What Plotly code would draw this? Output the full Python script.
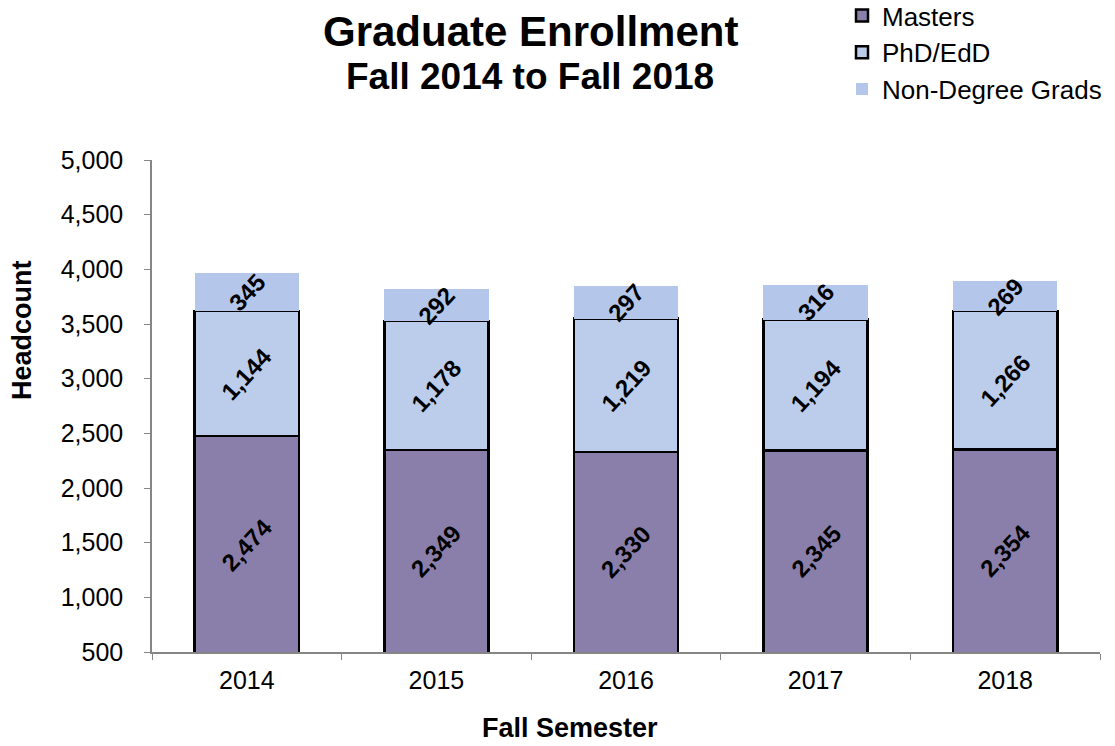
import plotly.graph_objects as go

years = ["2014", "2015", "2016", "2017", "2018"]
masters = [2474, 2349, 2330, 2345, 2354]
phd = [1144, 1178, 1219, 1194, 1266]
nondegree = [345, 292, 297, 316, 269]
y_ticks = [500, 1000, 1500, 2000, 2500, 3000, 3500, 4000, 4500, 5000]

FONT = "Arial, Liberation Sans, sans-serif"
Y_MIN, Y_MAX = 500, 5000
W, H = 1115, 746
ML, MR, MT, MB = 152, 15, 160, 94
PW, PH = W - ML - MR, H - MT - MB


def px_x(px):
    return (px - ML) / PW


def px_y(py):
    return (H - MB - py) / PH


fig = go.Figure()
fig.add_trace(go.Bar(
    x=years, y=masters, name="Masters",
    marker=dict(color="#8a7fab", line=dict(color="black", width=2.5)),
    textposition="none",
))
fig.add_trace(go.Bar(
    x=years, y=phd, name="PhD/EdD",
    marker=dict(color="#bccdec", line=dict(color="black", width=2.5)),
    textposition="none",
))
fig.add_trace(go.Bar(
    x=years, y=nondegree, name="Non-Degree Grads",
    marker=dict(color="#b4c7eb", line=dict(color="rgba(0,0,0,0)", width=0)),
    textposition="none",
))

# rotated value labels, centred in the visible part of each segment
label_font = dict(family=FONT, size=24, color="black")
for i in range(len(years)):
    m, p, n = masters[i], phd[i], nondegree[i]
    segs = [
        ((max(Y_MIN, 0) + m) / 2, m),
        (m + p / 2, p),
        (m + p + n / 2, n),
    ]
    for yc, v in segs:
        fig.add_annotation(
            x=i, y=yc, xref="x", yref="y", text=f"<b>{v:,}</b>",
            textangle=-47, showarrow=False, font=label_font,
            xanchor="center", yanchor="middle",
        )

fig.update_layout(
    barmode="stack",
    bargap=0.45,
    width=W, height=H,
    margin=dict(l=ML, r=MR, t=MT, b=MB, autoexpand=False),
    paper_bgcolor="white", plot_bgcolor="white",
    font=dict(family=FONT, color="black"),
    showlegend=True,
    legend=dict(
        x=px_x(842), y=px_y(-8), xref="paper", yref="paper",
        xanchor="left", yanchor="top",
        font=dict(family=FONT, size=26, color="black"),
        traceorder="normal",
        bgcolor="rgba(0,0,0,0)", tracegroupgap=0,
    ),
)

fig.update_xaxes(
    type="category", range=[-0.5, len(years) - 0.5],
    categoryorder="array", categoryarray=years,
    showline=True, linecolor="#868686", linewidth=1.5,
    ticks="outside", ticklen=6, tickcolor="#868686",
    tickson="boundaries", ticklabelstandoff=5, tickangle=0,
    tickfont=dict(family=FONT, size=25, color="black"),
    showgrid=False, automargin=False,
)
fig.update_yaxes(
    range=[Y_MIN, Y_MAX], tickvals=y_ticks, tickformat=",",
    showline=True, linecolor="#868686", linewidth=1.5,
    ticks="outside", ticklen=6, tickcolor="#868686",
    ticklabelstandoff=16,
    tickfont=dict(family=FONT, size=25, color="black"),
    showgrid=False, zeroline=False, automargin=False,
)

titles = [
    ("<b>Graduate Enrollment</b>", 530, 31, 42, 0),
    ("<b>Fall 2014 to Fall 2018</b>", 530, 76, 37, 0),
    ("<b>Headcount</b>", 22, 330, 27, -90),
    ("<b>Fall Semester</b>", 570, 728, 27, 0),
]
for text, x, y, size, ang in titles:
    fig.add_annotation(
        text=text, xref="paper", yref="paper",
        x=px_x(x), y=px_y(y), xanchor="center", yanchor="middle",
        textangle=ang, showarrow=False,
        font=dict(family=FONT, size=size, color="black"),
    )

fig.write_html("out.html")
